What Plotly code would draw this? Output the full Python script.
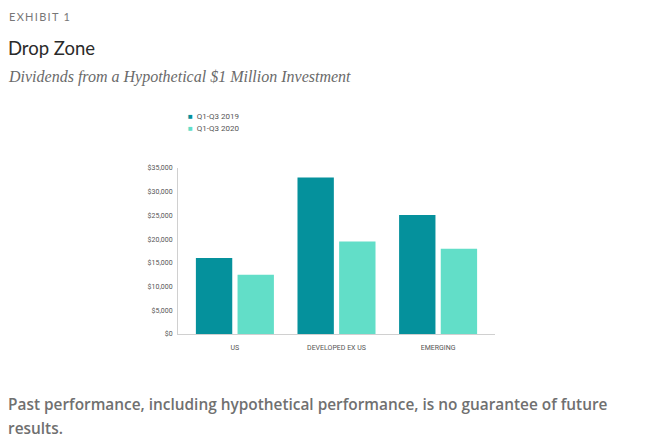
import plotly.graph_objects as go

categories = ["US", "DEVELOPED EX US", "EMERGING"]
series_names = ["Q1-Q3 2019", "Q1-Q3 2020"]
values_2019 = [16000, 33000, 25100]
values_2020 = [12500, 19500, 18000]
y_ticks = [0, 5000, 10000, 15000, 20000, 25000, 30000, 35000]
y_tick_labels = ["$0", "$5,000", "$10,000", "$15,000", "$20,000", "$25,000", "$30,000", "$35,000"]
colors = ["#05919C", "#62DEC8"]

W, H = 658, 443
L, R, T, B = 178, 163, 168, 109
pw, ph = W - L - R, H - T - B

def px(x):
    return (x - L) / pw

def py(y):
    return (H - B - y) / ph

fig = go.Figure()
for name, vals, c in zip(series_names, [values_2019, values_2020], colors):
    fig.add_trace(go.Bar(x=categories, y=vals, name=name, marker=dict(color=c, line=dict(width=0)),
                         showlegend=False))

tick_font = dict(family="Liberation Sans Narrow, Roboto, sans-serif", size=7, color="#555")
fig.update_layout(
    width=W, height=H,
    margin=dict(l=L, r=R, t=T, b=B),
    paper_bgcolor="white", plot_bgcolor="white",
    barmode="group", bargap=0.18, bargroupgap=0.127,
    xaxis=dict(range=[-0.56, 2.56], showline=True, linecolor="#d0d0d0", linewidth=1,
               showgrid=False, ticks="", ticklabelstandoff=7, tickfont=tick_font, fixedrange=True),
    yaxis=dict(range=[0, 35000], showline=True, linecolor="#d0d0d0", linewidth=1,
               showgrid=False, zeroline=False, tickvals=y_ticks, ticktext=y_tick_labels,
               ticks="", ticklabelstandoff=3, tickfont=tick_font, fixedrange=True),
)

ann = []
ann.append(dict(text="<span style='letter-spacing:1.3px'>EXHIBIT 1</span>", x=px(7), y=py(16), xanchor="left", yanchor="middle",
                font=dict(family="Lato, sans-serif", size=11, color="#777")))
ann.append(dict(text="Drop Zone", x=px(6), y=py(48.5), xanchor="left", yanchor="middle",
                font=dict(family="Lato, sans-serif", size=18.5, color="#2a2a2a")))
ann.append(dict(text="<i>Dividends from a Hypothetical $1 Million Investment</i>", x=px(6), y=py(77),
                xanchor="left", yanchor="middle",
                font=dict(family="Liberation Serif, serif", size=16, color="#6a6a6a")))
foot_lines = ["Past performance, including hypothetical performance, is no guarantee of future", "results."]
for i, line in enumerate(foot_lines):
    ann.append(dict(text=line, x=px(6), y=py(404 + 24 * i), xanchor="left", yanchor="middle", align="left",
                    font=dict(family="Open Sans, sans-serif", size=15.4, color="#707070", weight=600)))
for i, (name, c) in enumerate(zip(series_names, colors)):
    ann.append(dict(text=f"<span style='color:{c}'>■</span>  {name}", x=px(186), y=py(116 + 12.3 * i),
                    xanchor="left", yanchor="middle",
                    font=dict(family="Liberation Sans Narrow, Roboto, sans-serif", size=8, color="#555")))
for a in ann:
    a.update(xref="paper", yref="paper", showarrow=False)
fig.update_layout(annotations=ann)

fig.write_html("out.html")
